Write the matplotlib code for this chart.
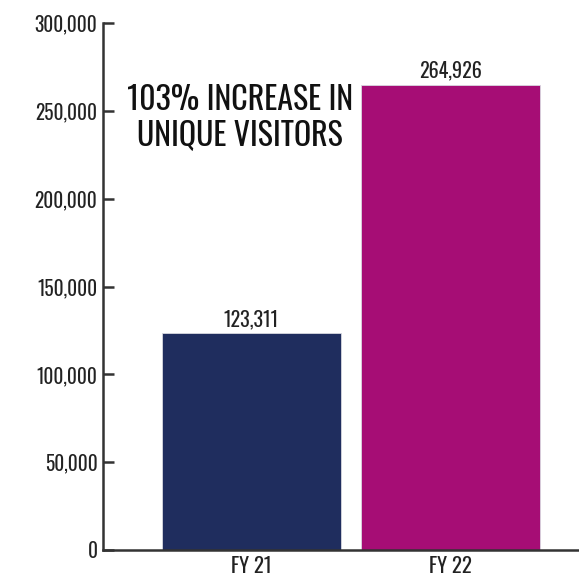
import matplotlib
matplotlib.use("Agg")
import matplotlib.pyplot as plt
from matplotlib.ticker import FuncFormatter

categories = ["FY 21", "FY 22"]
visitors = [123311, 264926]
bar_colors = ["#1F2D5E", "#A60D75"]
y_ticks = [0, 50000, 100000, 150000, 200000, 250000, 300000]
headline = "103% INCREASE IN\nUNIQUE VISITORS"

plt.rcParams["font.family"] = ["Oswald", "DejaVu Sans"]
plt.rcParams["font.weight"] = "light"

fig = plt.figure(figsize=(5.79, 5.83), dpi=100)
ax = fig.add_axes([103 / 579, 1 - 550 / 583, 1 - 103 / 579, 527 / 583])

x = range(len(categories))
ax.bar(x, visitors, width=0.9, color=bar_colors, edgecolor="#d8d8e0", linewidth=0.6)

for xi, v in zip(x, visitors):
    ax.text(xi, v + 2500, f"{v:,}", ha="center", va="bottom", fontsize=14.5, color="#222222")

ax.set_xlim(-0.746, 1.646)
ax.set_ylim(0, 300000)
ax.set_yticks(y_ticks)
ax.yaxis.set_major_formatter(FuncFormatter(lambda v, p: f"{int(v):,}"))
ax.set_xticks(list(x))
ax.set_xticklabels(categories)

ax.tick_params(axis="y", direction="in", length=8, width=1.8, color="#333333",
               labelsize=14, labelcolor="#222222", pad=4)
ax.tick_params(axis="x", length=0, labelsize=15, labelcolor="#222222", pad=4)

for side in ("top", "right"):
    ax.spines[side].set_visible(False)
for side in ("left", "bottom"):
    ax.spines[side].set_linewidth(1.8)
    ax.spines[side].set_color("#333333")

ax.text(-0.058, 246000, headline, ha="center", va="center", fontsize=23,
        color="#111111", linespacing=1.18)

fig.savefig("out.png", dpi=100)
